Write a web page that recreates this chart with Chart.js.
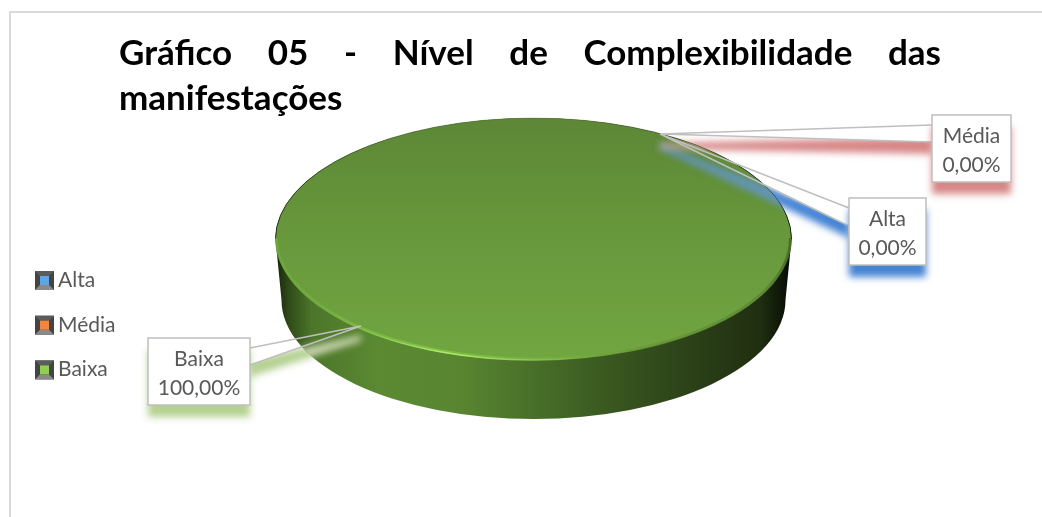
<!DOCTYPE html>
<html>
<head>
<meta charset="utf-8">
<style>
  html, body { margin: 0; padding: 0; background: #fff; overflow: hidden; }
  #wrap { width: 1042px; height: 517px; }
</style>
<script src="https://cdn.jsdelivr.net/npm/chart.js@4"></script>
</head>
<body>
<div id="wrap"><canvas id="chart" width="1042" height="517"></canvas></div>
<script>
const categories = ['Alta', 'Média', 'Baixa'];
const percentValues = [0, 0, 100];
const titleLines = ['Gráfico 05 - Nível de Complexibilidade das', 'manifestações'];
const swatchColors = ['#5ea6e6', '#f5853a', '#8fd052'];
const shadowColors = ['rgba(60,125,210,0.95)', 'rgba(205,105,105,0.8)', 'rgba(150,190,100,0.7)'];
const onDiscColors = ['rgba(100,150,220,0.8)', 'rgba(220,170,170,0.7)', 'rgba(225,230,200,0.85)'];

// where the flattened disc sits on the page, the base is a bit narrower than the top
const disc = { cx: 533.5, cy: 239, rx: 258, ry: 121 };
const base = { cy: 300, rx: 252, ry: 119 };

// callout boxes, same order as categories
const callouts = [
  { box: [849, 198, 77, 67], tip: [660, 134], a: [849, 208], b: [849, 226] },
  { box: [932, 115, 79, 67], tip: [660, 134], a: [932, 125], b: [932, 142] },
  { box: [148, 338, 102, 67], tip: [361, 326], a: [250, 348], b: [250, 365] }
];

const labelFont = '21px Lato';

function formatPercent(v) {
  return v.toFixed(2).replace('.', ',') + '%';
}

function silhouette(ctx) {
  ctx.beginPath();
  ctx.ellipse(disc.cx, disc.cy, disc.rx, disc.ry, 0, Math.PI, 0);
  ctx.lineTo(disc.cx + base.rx, base.cy);
  ctx.ellipse(disc.cx, base.cy, base.rx, base.ry, 0, 0, Math.PI);
  ctx.closePath();
}

function wedgePath(ctx, c) {
  ctx.beginPath();
  ctx.moveTo(c.tip[0], c.tip[1]);
  ctx.lineTo(c.a[0], c.a[1]);
  ctx.lineTo(c.b[0], c.b[1]);
  ctx.closePath();
}

// the shadow stays about as thick near the tip as near the box
function wedgeShadowPath(ctx, c) {
  ctx.beginPath();
  ctx.moveTo(c.tip[0], c.tip[1] - 3);
  ctx.lineTo(c.a[0], c.a[1]);
  ctx.lineTo(c.b[0], c.b[1]);
  ctx.lineTo(c.tip[0], c.tip[1] + 3);
  ctx.closePath();
}

// paints only the blurred shadow of a path, moved down a little
function shadowOnly(ctx, color, drawPath, dy) {
  const far = 3000;
  ctx.save();
  ctx.shadowColor = color;
  ctx.shadowBlur = 7;
  ctx.shadowOffsetX = far;
  ctx.shadowOffsetY = dy;
  ctx.fillStyle = '#000';
  ctx.translate(-far, 0);
  drawPath();
  ctx.fill();
  ctx.restore();
}

function drawWall(ctx) {
  const left = disc.cx - disc.rx;
  const width = disc.rx * 2;
  const g = ctx.createLinearGradient(left, 0, left + width, 0);
  g.addColorStop(0, '#16220b');
  g.addColorStop(0.025, '#2f4a19');
  g.addColorStop(0.07, '#4c7529');
  g.addColorStop(0.2, '#5b8a33');
  g.addColorStop(0.36, '#598530');
  g.addColorStop(0.52, '#466c28');
  g.addColorStop(0.66, '#38561f');
  g.addColorStop(0.82, '#2a3f17');
  g.addColorStop(0.94, '#1f2e10');
  g.addColorStop(1, '#060a03');
  ctx.save();
  silhouette(ctx);
  ctx.fillStyle = g;
  ctx.fill();
  ctx.restore();
}

function drawRim(ctx) {
  ctx.save();
  // thin dark edge on the far side
  ctx.beginPath();
  ctx.ellipse(disc.cx, disc.cy, disc.rx, disc.ry, 0, Math.PI, 0);
  const dark = ctx.createLinearGradient(disc.cx - disc.rx, 0, disc.cx + disc.rx, 0);
  dark.addColorStop(0, 'rgba(30,45,15,0.9)');
  dark.addColorStop(0.2, 'rgba(50,75,25,0.6)');
  dark.addColorStop(0.5, 'rgba(70,100,40,0.3)');
  dark.addColorStop(1, 'rgba(20,30,10,0.9)');
  ctx.strokeStyle = dark;
  ctx.lineWidth = 1;
  ctx.stroke();

  // bevel on the near side
  const bevel = ctx.createLinearGradient(disc.cx - disc.rx, 0, disc.cx + disc.rx, 0);
  bevel.addColorStop(0, 'rgba(110,170,60,0.7)');
  bevel.addColorStop(0.3, 'rgba(130,195,70,0.95)');
  bevel.addColorStop(0.6, 'rgba(115,170,60,0.9)');
  bevel.addColorStop(0.95, 'rgba(80,120,45,0.5)');
  bevel.addColorStop(1, 'rgba(40,60,20,0.5)');
  ctx.beginPath();
  ctx.ellipse(disc.cx, disc.cy - 1, disc.rx - 1, disc.ry, 0, 0, Math.PI);
  ctx.strokeStyle = bevel;
  ctx.lineWidth = 3;
  ctx.stroke();

  const shine = ctx.createLinearGradient(disc.cx - disc.rx, 0, disc.cx + disc.rx, 0);
  shine.addColorStop(0.1, 'rgba(170,230,100,0)');
  shine.addColorStop(0.33, 'rgba(175,235,110,1)');
  shine.addColorStop(0.48, 'rgba(150,215,90,0.7)');
  shine.addColorStop(0.62, 'rgba(140,200,80,0)');
  ctx.beginPath();
  ctx.ellipse(disc.cx, disc.cy, disc.rx, disc.ry, 0, 0, Math.PI);
  ctx.strokeStyle = shine;
  ctx.lineWidth = 1.5;
  ctx.stroke();
  ctx.restore();
}

const frameAndTitle = {
  id: 'frameAndTitle',
  beforeDraw(chart) {
    const ctx = chart.ctx;
    ctx.save();
    ctx.fillStyle = '#fff';
    ctx.fillRect(0, 0, chart.width, chart.height);
    ctx.strokeStyle = '#d9d9d9';
    ctx.lineWidth = 2;
    ctx.beginPath();
    ctx.moveTo(10, chart.height);
    ctx.lineTo(10, 12);
    ctx.lineTo(chart.width, 12);
    ctx.stroke();

    ctx.fillStyle = '#000';
    ctx.font = 'bold 35px Lato';
    ctx.textBaseline = 'alphabetic';
    ctx.textAlign = 'left';
    // first line is justified between the title margins
    const first = titleLines[0];
    const gaps = first.split(' ').length - 1;
    const extra = (941 - 119 - ctx.measureText(first).width) / gaps;
    ctx.wordSpacing = extra + 'px';
    ctx.fillText(first, 119, 65);
    ctx.wordSpacing = '0px';
    ctx.fillText(titleLines[1], 119, 110);
    ctx.restore();
  }
};

const flatDisc = {
  id: 'flatDisc',
  beforeDatasetsDraw(chart) {
    const ctx = chart.ctx;
    const arc = chart.getDatasetMeta(0).data[2];
    // callout shadows go under the disc, the wedge itself stays white
    callouts.forEach((c, i) => {
      shadowOnly(ctx, shadowColors[i], () => wedgeShadowPath(ctx, c), 12);
      ctx.fillStyle = '#fff';
      wedgePath(ctx, c);
      ctx.fill();
    });
    drawWall(ctx);
    ctx.save();
    ctx.translate(disc.cx, disc.cy);
    ctx.scale(disc.rx / arc.outerRadius, disc.ry / arc.outerRadius);
    ctx.translate(-arc.x, -arc.y);
  },
  afterDatasetsDraw(chart) {
    const ctx = chart.ctx;
    ctx.restore();
    drawRim(ctx);
  }
};

const callouts3d = {
  id: 'callouts3d',
  afterDraw(chart) {
    const ctx = chart.ctx;
    const values = chart.data.datasets[0].data;
    const total = values.reduce((s, v) => s + v, 0);

    // faint shadow where the wedges pass over the disc
    ctx.save();
    silhouette(ctx);
    ctx.clip();
    callouts.forEach((c, i) => {
      shadowOnly(ctx, onDiscColors[i], () => wedgeShadowPath(ctx, c), 12);
    });
    ctx.restore();

    callouts.forEach((c, i) => {
      const [x, y, w, h] = c.box;
      ctx.save();
      ctx.strokeStyle = '#bfbfbf';
      ctx.lineWidth = 1.5;
      ctx.beginPath();
      ctx.moveTo(c.a[0], c.a[1]);
      ctx.lineTo(c.tip[0], c.tip[1]);
      ctx.lineTo(c.b[0], c.b[1]);
      ctx.stroke();

      shadowOnly(ctx, shadowColors[i], () => {
        ctx.beginPath();
        ctx.rect(x, y, w, h);
      }, 12);

      ctx.fillStyle = '#fff';
      ctx.fillRect(x, y, w, h);
      ctx.strokeStyle = '#bfbfbf';
      ctx.lineWidth = 1.5;
      ctx.strokeRect(x, y, w, h);

      ctx.fillStyle = '#595959';
      ctx.font = labelFont;
      ctx.textAlign = 'center';
      ctx.textBaseline = 'alphabetic';
      ctx.fillText(categories[i], x + w / 2, y + 28);
      ctx.fillText(formatPercent(values[i] / total * 100), x + w / 2, y + 57);
      ctx.restore();
    });
  }
};

const bevelLegend = {
  id: 'bevelLegend',
  afterDraw(chart) {
    const ctx = chart.ctx;
    const x = 35;
    const size = 19;
    categories.forEach((name, i) => {
      const y = 271 + i * 44.7;
      ctx.save();
      // four shaded sides around the colour swatch
      ctx.fillStyle = '#444';
      ctx.fillRect(x, y, size, size);
      ctx.fillStyle = '#8a8a8a';
      ctx.beginPath();
      ctx.moveTo(x, y + size);
      ctx.lineTo(x + size, y + size);
      ctx.lineTo(x + size - 5, y + size - 5);
      ctx.lineTo(x + 5, y + size - 5);
      ctx.closePath();
      ctx.fill();
      ctx.fillStyle = '#5c5c5c';
      ctx.beginPath();
      ctx.moveTo(x, y);
      ctx.lineTo(x + size, y);
      ctx.lineTo(x + size - 5, y + 5);
      ctx.lineTo(x + 5, y + 5);
      ctx.closePath();
      ctx.fill();
      ctx.fillStyle = swatchColors[i];
      ctx.fillRect(x + 5, y + 5, size - 10, size - 10);

      ctx.fillStyle = '#595959';
      ctx.font = labelFont;
      ctx.textAlign = 'left';
      ctx.textBaseline = 'alphabetic';
      ctx.fillText(name, 58, y + 16);
      ctx.restore();
    });
  }
};

new Chart(document.getElementById('chart').getContext('2d'), {
  type: 'pie',
  data: {
    labels: categories,
    datasets: [
      {
        data: percentValues,
        borderWidth: 0,
        backgroundColor: (context) => {
          const g = context.chart.ctx.createLinearGradient(0, 0, 0, context.chart.height);
          g.addColorStop(0, '#5d8736');
          g.addColorStop(0.5, '#68983c');
          g.addColorStop(1, '#71a641');
          return g;
        }
      }
    ]
  },
  options: {
    responsive: false,
    animation: false,
    radius: 258,
    layout: { padding: { left: 25 } },
    plugins: {
      legend: { display: false },
      title: { display: false },
      tooltip: { enabled: false }
    }
  },
  plugins: [frameAndTitle, flatDisc, callouts3d, bevelLegend]
});
</script>
</body>
</html>
